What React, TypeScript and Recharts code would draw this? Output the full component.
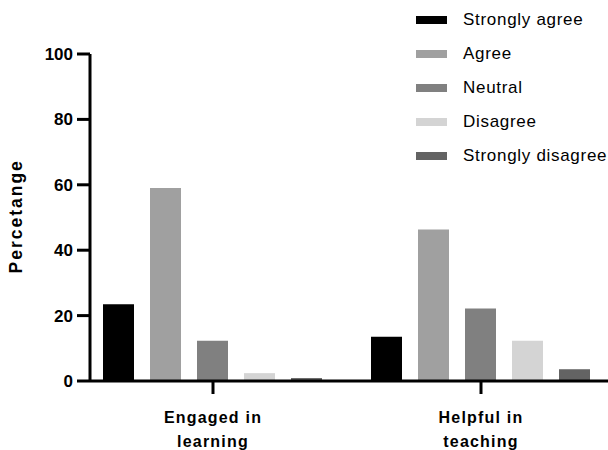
import React from 'react';
import { BarChart, Bar, XAxis, YAxis } from 'recharts';

const categories = ['Engaged in\nlearning', 'Helpful in\nteaching'];
const stronglyAgree = [23.5, 13.5];
const agree = [59, 46.3];
const neutral = [12.3, 22.2];
const disagree = [2.4, 12.3];
const stronglyDisagree = [0.9, 3.6];
const yTicks = [0, 20, 40, 60, 80, 100];

const series = [
    { key: 'sa', name: 'Strongly agree', values: stronglyAgree, color: '#000000' },
    { key: 'a', name: 'Agree', values: agree, color: '#a0a0a0' },
    { key: 'n', name: 'Neutral', values: neutral, color: '#808080' },
    { key: 'd', name: 'Disagree', values: disagree, color: '#d4d4d4' },
    { key: 'sd', name: 'Strongly disagree', values: stronglyDisagree, color: '#636363' },
];

const data = categories.map((c, i) => {
    const row: any = { name: c };
    series.forEach(s => { row[s.key] = s.values[i]; });
    return row;
});

const font = '"Liberation Sans", Arial, sans-serif';

function CategoryTick(props: any) {
    const { x, y, payload } = props;
    const lines = String(payload.value).split('\n');
    return <text x={x} y={y} textAnchor="middle" fontFamily={font} fontWeight="bold" fontSize={16} letterSpacing={1.2} fill="#000">
        {lines.map((l, i) => <tspan key={i} x={x} dy={i === 0 ? 27 : 24}>{l}</tspan>)}
    </text>;
}

function SideLegend() {
    return <div style={{ position: 'absolute', left: 416, top: 3, fontFamily: font, fontSize: 17, letterSpacing: 0.7, color: '#000' }}>
        {series.map(s => <div key={s.key} style={{ display: 'flex', alignItems: 'center', height: 34 }}>
            <div style={{ width: 31, height: 8, background: s.color, marginRight: 16 }} />
            <span>{s.name}</span>
        </div>)}
    </div>;
}

export default function App() {
    return <div style={{ position: 'fixed', left: 0, top: 0, width: 608, height: 450, background: '#fff' }}>
        <BarChart
            width={608}
            height={450}
            data={data}
            margin={{ top: 54, right: 0, left: 0, bottom: 0 }}
            barGap={16}
            barCategoryGap={24}
        >
            <XAxis
                dataKey="name"
                height={69}
                padding={{ left: -11, right: -7 }}
                axisLine={{ stroke: '#000', strokeWidth: 3 }}
                tickLine={{ stroke: '#000', strokeWidth: 3 }}
                tickSize={13}
                tick={<CategoryTick />}
                interval={0}
            />
            <YAxis
                width={90}
                domain={[0, 100]}
                ticks={yTicks}
                axisLine={{ stroke: '#000', strokeWidth: 3 }}
                tickLine={{ stroke: '#000', strokeWidth: 3 }}
                tickSize={13}
                tickMargin={4}
                tick={{ fill: '#000', fontFamily: font, fontWeight: 'bold', fontSize: 17 }}
                label={{ value: 'Percetange', angle: -90, position: 'insideLeft', dx: 11, dy: 56, style: { fill: '#000', fontFamily: font, fontWeight: 'bold', fontSize: 17.5, letterSpacing: 2 } }}
            />
            {series.map(s => <Bar key={s.key} dataKey={s.key} name={s.name} fill={s.color} isAnimationActive={false} />)}
        </BarChart>
        <SideLegend />
    </div>;
}
